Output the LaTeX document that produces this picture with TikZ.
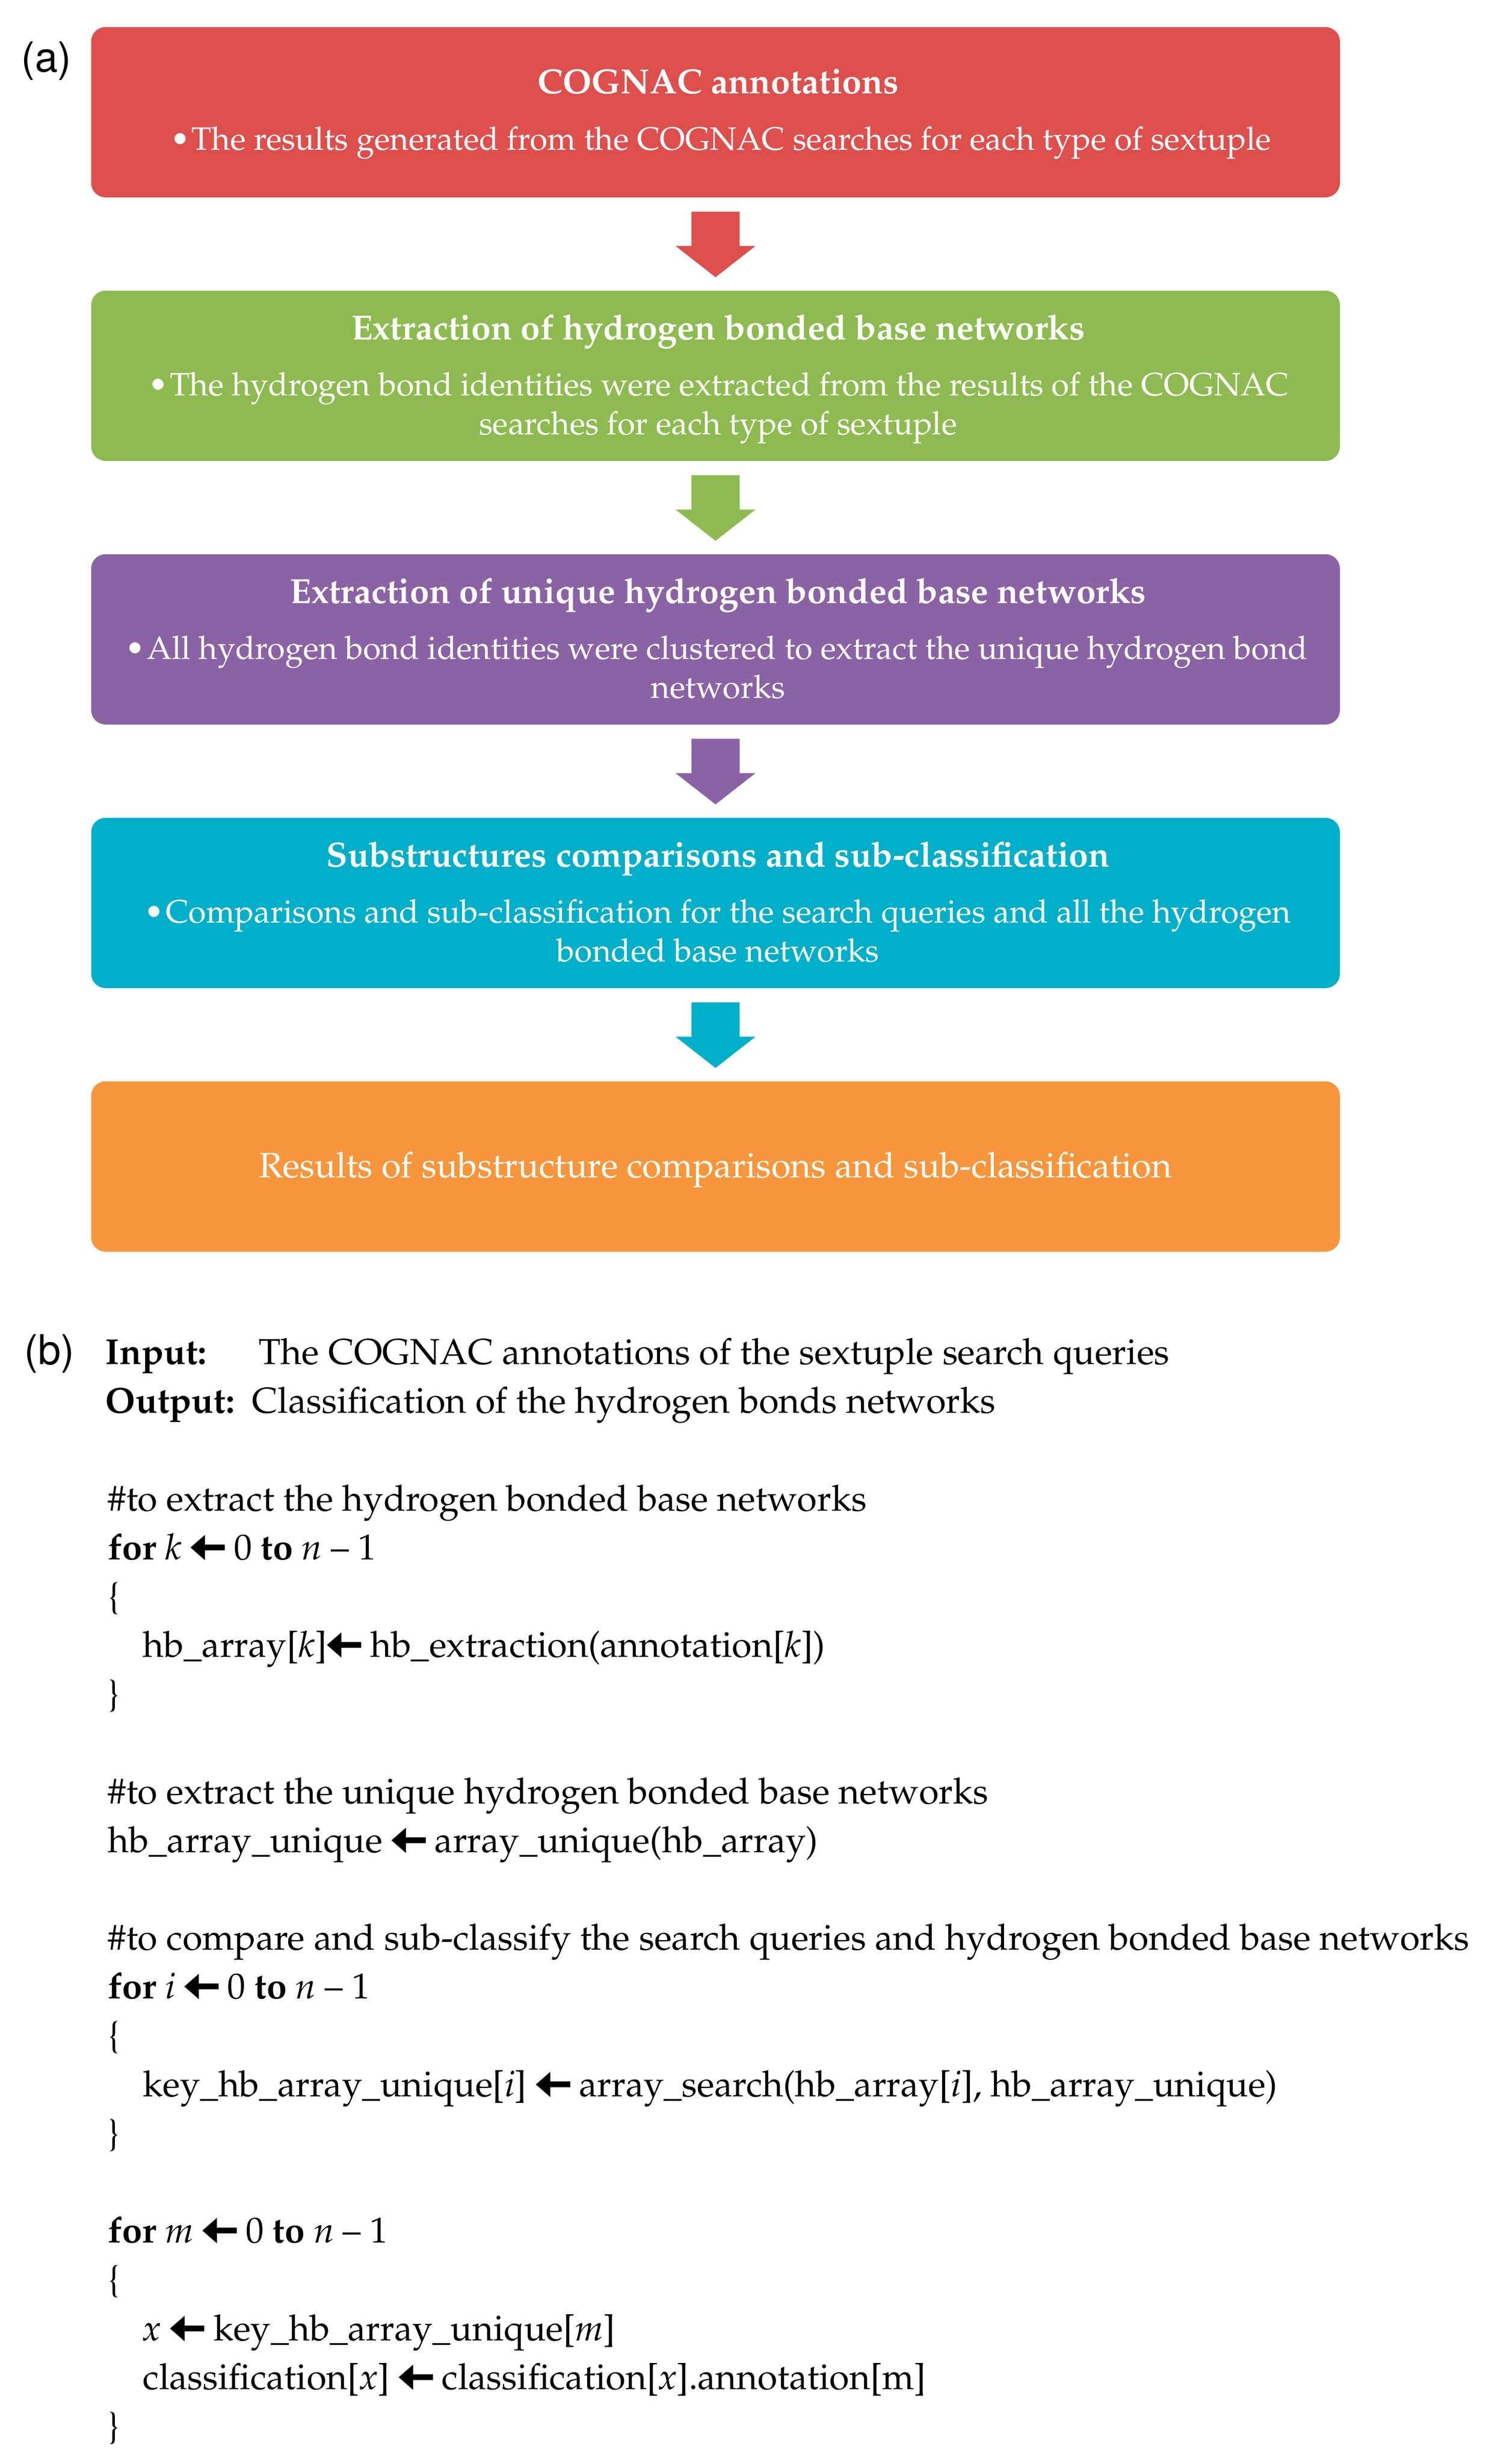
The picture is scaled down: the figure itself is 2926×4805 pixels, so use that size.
\documentclass[tikz,border=0pt]{standalone}
\usepackage[T1]{fontenc}
\usepackage{mathpazo}
\usetikzlibrary{calc}
\definecolor{cred}{RGB}{221,79,77}
\definecolor{cgreen}{RGB}{141,187,81}
\definecolor{cpurple}{RGB}{138,99,164}
\definecolor{ccyan}{RGB}{0,174,200}
\definecolor{corange}{RGB}{247,150,60}
\newcommand{\garr}{\tikz[baseline=0pt,x=1em,y=1em]{\fill (0,0.33) -- (0.40,0.68) -- (0.40,0.41) -- (0.95,0.41) -- (0.95,0.25) -- (0.40,0.25) -- (0.40,-0.02) -- cycle;}}
\tikzset{
  box/.style={rounded corners=7pt, minimum width=608.75pt, minimum height=83pt, inner sep=0pt, anchor=north west, draw=none},
  ttl/.style={anchor=base, text=white, inner sep=0pt, font=\fontsize{17}{20}\selectfont\bfseries},
  bul/.style={anchor=base, text=white, inner sep=0pt, font=\fontsize{15.75}{19}\selectfont},
  res/.style={anchor=base, text=white, inner sep=0pt, font=\fontsize{17.25}{20}\selectfont},
  code/.style={anchor=base west, inner sep=0pt, font=\fontsize{17.6}{21}\selectfont},
  lbl/.style={anchor=base west, inner sep=0pt, font=\fontfamily{phv}\fontsize{20}{24}\selectfont},
}
\newcommand{\bigarr}[2]{%
  \fill[#2] ($(#1.south)+(-47,27)$) -- ($(#1.south)+(47,27)$) -- ($(#1.south)+(47,94)$) -- ($(#1.south)+(78,94)$) -- ($(#1.south)+(0,155)$) -- ($(#1.south)+(-78,94)$) -- ($(#1.south)+(-47,94)$) -- cycle;}
\begin{document}
\begin{tikzpicture}[x=0.25pt,y=-0.25pt]
\path[use as bounding box, fill=white] (0,0) rectangle (2926,4805);
% (a) flowchart
\node[lbl] (la) at (41,140) {(a)};
\node[box, fill=cred]    (b1) at (177,52)   {};
\node[box, fill=cgreen]  (b2) at (177,566)  {};
\node[box, fill=cpurple] (b3) at (177,1080) {};
\node[box, fill=ccyan]   (b4) at (177,1594) {};
\node[box, fill=corange] (b5) at (177,2108) {};
\bigarr{b1}{cred}
\bigarr{b2}{cgreen}
\bigarr{b3}{cpurple}
\bigarr{b4}{ccyan}

\node[ttl] (t1) at ($(b1.north)+(5,131)$) {COGNAC annotations};
\node[bul] (d1) at ($(b1.north)+(10,241)$) {\textbullet\hspace{0.06em}The results generated from the COGNAC searches for each type of sextuple};

\node[ttl] (t2) at ($(b2.north)+(5,96)$) {Extraction of hydrogen bonded base networks};
\node[bul] (d2a) at ($(b2.north)+(6,205)$) {\textbullet\hspace{0.06em}The hydrogen bond identities were extracted from the results of the COGNAC};
\node[bul] (d2b) at ($(b2.north)+(5,281)$) {searches for each type of sextuple};

\node[ttl] (t3) at ($(b3.north)+(5,96)$) {Extraction of unique hydrogen bonded base networks};
\node[bul] (d3a) at ($(b3.north)+(2,205)$) {\textbullet\hspace{0.06em}All hydrogen bond identities were clustered to extract the unique hydrogen bond};
\node[bul] (d3b) at ($(b3.north)+(5,281)$) {networks};

\node[ttl] (t4) at ($(b4.north)+(5,96)$) {Substructures comparisons and sub-classification};
\node[bul] (d4a) at ($(b4.north)+(4,205)$) {\textbullet\hspace{0.06em}Comparisons and sub-classification for the search queries and all the hydrogen};
\node[bul] (d4b) at ($(b4.north)+(5,281)$) {bonded base networks};

\node[res] (t5) at ($(b5.north)+(0,188)$) {Results of substructure comparisons and sub-classification};

% (b) pseudocode
\node[lbl] (lb) at (47,2660) {(b)};
\node[code] (c0a) at (205,2660) {\textbf{Input:}};
\node[code] (c0b) at (504,2660) {The COGNAC annotations of the sextuple search queries};
\node[code] (c1a) at (205,2755) {\textbf{Output:}};
\node[code] (c1b) at (491,2755) {Classification of the hydrogen bonds networks};
\node[code] (c3) at (210,2946) {\#to extract the hydrogen bonded base networks};
\node[code] (c4) at (210,3041) {\textbf{for} \textit{k} \garr\ 0 \textbf{to} \textit{n} -- 1};
\node[code] (c5) at (210,3136) {\{};
\node[code] (c6) at (278,3231) {hb\_array[\textit{k}]\garr\ hb\_extraction(annotation[\textit{k}])};
\node[code] (c7) at (210,3326) {\}};
\node[code] (c9) at (210,3517) {\#to extract the unique hydrogen bonded base networks};
\node[code] (c10) at (210,3612) {hb\_array\_unique \garr\ array\_unique(hb\_array)};
\node[code] (c12) at (210,3802) {\#to compare and sub-classify the search queries and hydrogen bonded base networks};
\node[code] (c13) at (210,3897) {\textbf{for} \textit{i} \garr\ 0 \textbf{to} \textit{n} -- 1};
\node[code] (c14) at (210,3992) {\{};
\node[code] (c15) at (278,4088) {key\_hb\_array\_unique[\textit{i}] \garr\ array\_search(hb\_array[\textit{i}], hb\_array\_unique)};
\node[code] (c16) at (210,4183) {\}};
\node[code] (c18) at (210,4373) {\textbf{for} \textit{m} \garr\ 0 \textbf{to} \textit{n} -- 1};
\node[code] (c19) at (210,4468) {\{};
\node[code] (c20) at (278,4564) {\textit{x} \garr\ key\_hb\_array\_unique[\textit{m}]};
\node[code] (c21) at (278,4659) {classification[\textit{x}] \garr\ classification[\textit{x}].annotation[m]};
\node[code] (c22) at (210,4754) {\}};
\end{tikzpicture}
\end{document}
